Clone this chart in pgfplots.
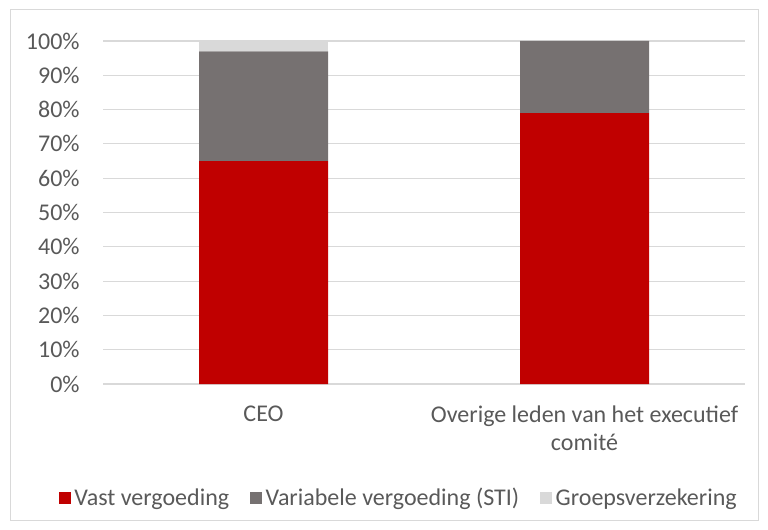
\documentclass[border=0pt]{standalone}
\usepackage{pgfplots}
\pgfplotsset{compat=1.18}
\usepackage{fontspec}
\setmainfont{Carlito}
\definecolor{cred}{HTML}{C00000}
\definecolor{cgray}{HTML}{767171}
\definecolor{clight}{HTML}{D9D9D9}
\definecolor{ctext}{HTML}{595959}
\definecolor{cgrid}{HTML}{D9D9D9}
\begin{document}
\begin{tikzpicture}
\path[use as bounding box] (0,0) rectangle (576pt,396.75pt);
\draw[cgrid,line width=0.75pt] (7.5pt,6.75pt) rectangle (568.5pt,389.25pt);
\begin{axis}[
  at={(77.25pt,108.75pt)}, anchor=south west,
  scale only axis, width=481.5pt, height=257.25pt,
  ybar stacked, bar width=96.75pt,
  xmin=-0.5, xmax=1.5, ymin=0, ymax=100,
  xtick={0,1}, xticklabels={CEO,{Overige leden van het executief\\comité}},
  ytick={0,10,...,100}, yticklabel={\pgfmathprintnumber{\tick}\%},
  /pgf/number format/assume math mode=true,
  font=\fontsize{18}{20.5}\selectfont,
  tick label style={text=ctext},
  xticklabel style={align=center, anchor=north, yshift=-13pt},
  yticklabel style={anchor=east, xshift=-14pt},
  major tick length=0pt,
  axis line style={draw=none},
  ymajorgrids, grid style={cgrid, line width=0.9pt},
  legend style={at={(0.461,-0.333)}, anchor=center, draw=none, fill=none,
    legend columns=-1, font=\fontsize{18}{20}\selectfont, text=ctext,
    /tikz/every odd column/.append style={column sep=0.5pt},
    /tikz/every even column/.append style={column sep=13.5pt}},
  legend cell align=left,
  legend image code/.code={\fill[#1] (0pt,-4.7pt) rectangle (9.4pt,4.7pt);},
]
\addplot[fill=cred, draw=none] coordinates {(0,65) (1,79)};
\addplot[fill=cgray, draw=none] coordinates {(0,32) (1,21)};
\addplot[fill=clight, draw=none] coordinates {(0,3) (1,0)};
\legend{Vast vergoeding,Variabele vergoeding (STI),Groepsverzekering}
\end{axis}
\end{tikzpicture}
\end{document}
